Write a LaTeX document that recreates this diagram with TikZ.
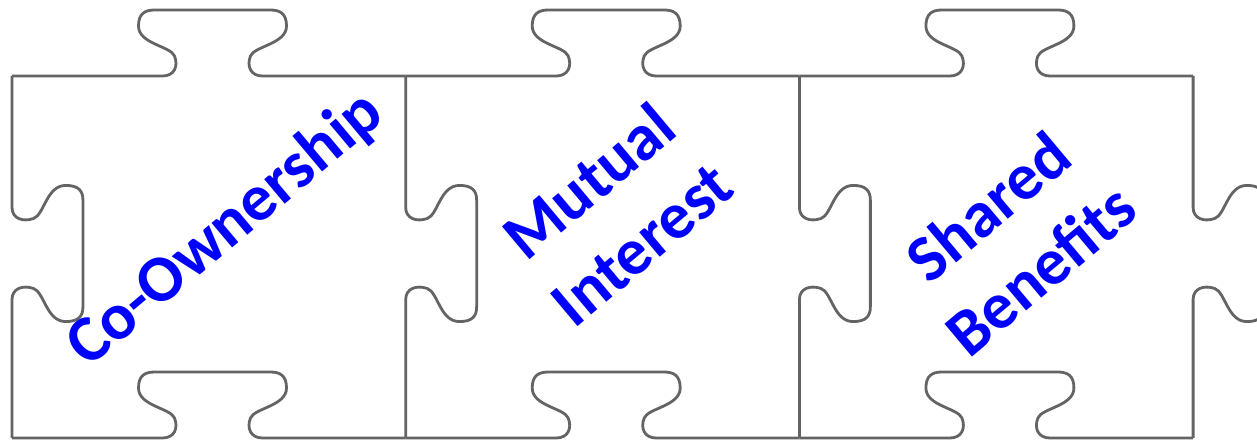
\documentclass[tikz,border=0pt]{standalone}
\usepackage{fontspec}
\setmainfont{Carlito}
% one edge with its knob, knob centred at the origin, pointing to +y
\newcommand{\knobpath}[2]{(-#1,0) -- (-50,0) .. controls (-38,0) and (-34,10) .. (-38,20)
  .. controls (-42,30) and (-74,32) .. (-74,50) .. controls (-74,62) and (-68,66) .. (-58,66)
  -- (58,66) .. controls (68,66) and (74,62) .. (74,50) .. controls (74,32) and (42,30) .. (38,20)
  .. controls (34,10) and (38,0) .. (50,0) -- (#2,0)}
\tikzset{
  edgeline/.style={draw={rgb,255:red,100;green,100;blue,100},line width=2.8pt,line join=round},
  puzzlelabel/.style={text=blue,font=\bfseries\fontsize{66}{82}\selectfont,rotate=40,align=center,inner sep=0pt}
}
\begin{document}
\begin{tikzpicture}[x=1pt,y=1pt]
    \useasboundingbox (0,0) rectangle (1257,440);
    \clip (0,0) rectangle (1257,440);
    % top and bottom edges
    \foreach \i in {0,1,2}{
        \draw[edgeline,shift={(212.5+393.7*\i,364)}] \knobpath{200.5}{193.2};
        \draw[edgeline,shift={(212.5+393.7*\i,2)}] \knobpath{200.5}{193.2};
    }
    % side edges
    \foreach \i in {0,1,2,3}
        \draw[edgeline,shift={(12+393.7*\i,186.5)},rotate=-90,xscale=.92,yscale=1.075] \knobpath{193}{200.5};
    \node[puzzlelabel] (coown) at (226,210) {Co-Ownership};
    \node[puzzlelabel] (mutual) at (615,228) {Mutual\\Interest};
    \node[puzzlelabel] (shared) at (1014,202) {Shared\\Benefits};
\end{tikzpicture}
\end{document}
